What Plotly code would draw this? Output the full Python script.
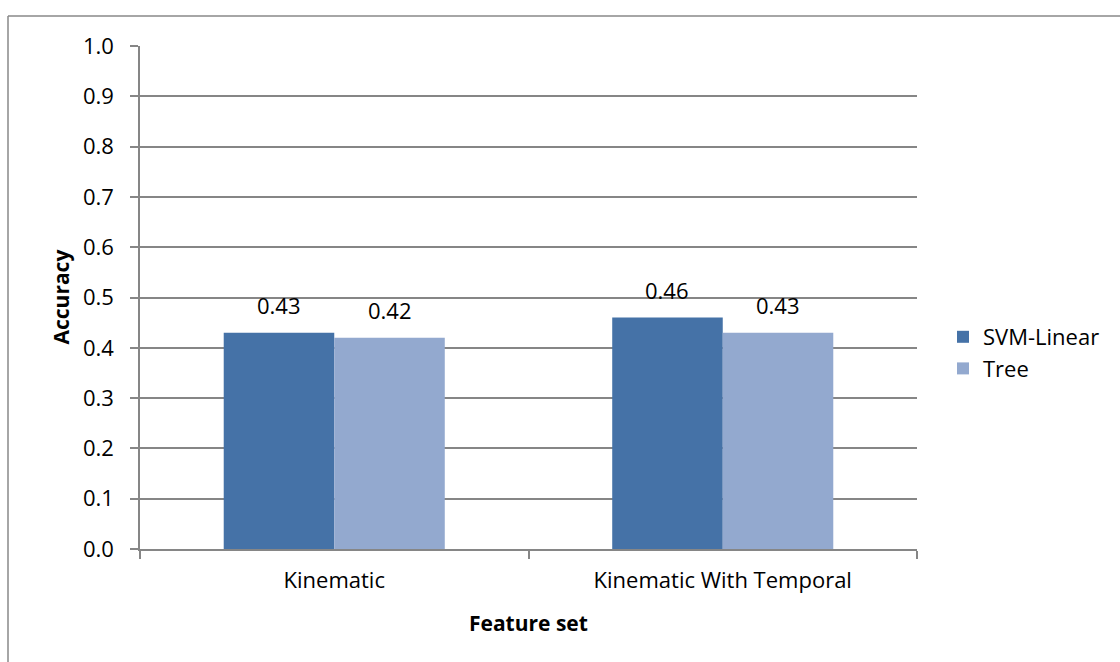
import plotly.graph_objects as go

categories = ["Kinematic", "Kinematic With Temporal"]
series_names = ["SVM-Linear", "Tree"]
svm_values = [0.43, 0.46]
tree_values = [0.42, 0.43]
y_ticks = [0.0, 0.1, 0.2, 0.3, 0.4, 0.5, 0.6, 0.7, 0.8, 0.9, 1.0]

colors = ["#4572A7", "#93A9CF"]
FONT = "Open Sans, Calibri, Arial, sans-serif"
FS = 22

W, H = 1120, 662
L, R, T, B = 140, 917, 46, 549
pw, ph = R - L, B - T

def px(x):
    return (x - L) / pw

def py(y):
    return (B - y) / ph

fig = go.Figure()
for name, vals, c in zip(series_names, [svm_values, tree_values], colors):
    fig.add_trace(go.Bar(x=categories, y=vals, name=name, marker=dict(color=c, line=dict(width=0))))

bw = 0.2845
annotations = []
for k, vals in enumerate([svm_values, tree_values]):
    off = -bw / 2 if k == 0 else bw / 2
    for i, v in enumerate(vals):
        annotations.append(dict(x=i + off, y=v, xref="x", yref="y", text=f"{v:.2f}",
                                showarrow=False, yanchor="bottom", yshift=11,
                                font=dict(family=FONT, size=FS, color="#000")))

annotations.append(dict(x=px(60), y=0.5, xref="paper", yref="paper", text="<b>Accuracy</b>",
                        textangle=-90, showarrow=False, xanchor="center", yanchor="middle",
                        font=dict(family=FONT, size=FS - 1, color="#000")))
annotations.append(dict(x=px(528), y=py(623), xref="paper", yref="paper", text="<b>Feature set</b>",
                        showarrow=False, xanchor="center", yanchor="middle",
                        font=dict(family=FONT, size=FS - 1, color="#000")))

fig.update_layout(
    width=W, height=H,
    margin=dict(l=L, r=W - R, t=T, b=H - B, pad=0, autoexpand=False),
    paper_bgcolor="white", plot_bgcolor="white",
    barmode="group", bargap=0.431, bargroupgap=0,
    font=dict(family=FONT, size=FS, color="#000"),
    showlegend=True,
    legend=dict(x=px(943), y=py(353), xanchor="left", yanchor="middle",
                font=dict(family=FONT, size=FS, color="#000"),
                tracegroupgap=0, itemwidth=30, bgcolor="rgba(0,0,0,0)"),
    annotations=annotations,
    shapes=[
        dict(type="line", xref="paper", yref="paper", x0=px(8), x1=px(1125), y0=py(16), y1=py(16),
             line=dict(color="#898989", width=1.5)),
        dict(type="line", xref="paper", yref="paper", x0=px(8), x1=px(8), y0=py(16), y1=py(670),
             line=dict(color="#898989", width=1.5)),
    ],
)

fig.update_xaxes(type="category", tickson="boundaries", ticks="outside", ticklen=8,
                 tickcolor="#868686", tickwidth=1.5, showline=True, linecolor="#868686", linewidth=1.5,
                 showgrid=False, tickfont=dict(family=FONT, size=FS, color="#000"),
                 range=[-0.5, 1.5], ticklabelstandoff=11)
fig.update_yaxes(range=[0, 1.0], tickvals=y_ticks, ticktext=[f"{v:.1f}" for v in y_ticks],
                 ticks="outside", ticklen=8, tickcolor="#868686", tickwidth=1.5,
                 showline=True, linecolor="#868686", linewidth=1.5,
                 showgrid=True, gridcolor="#868686", gridwidth=1.5, zeroline=False,
                 tickfont=dict(family=FONT, size=FS, color="#000"), ticklabelstandoff=12)

fig.write_html("out.html")
